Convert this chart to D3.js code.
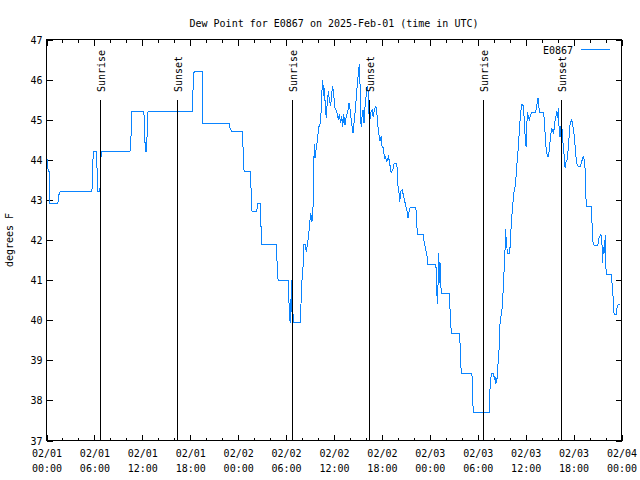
<!DOCTYPE html>
<html><head><meta charset="utf-8">
<script src="https://cdn.jsdelivr.net/npm/d3@7"></script>
<style>
body{margin:0;background:#fff}
svg{display:block;background:#fff}
text{font-family:"DejaVu Sans Mono",monospace;font-size:10px;fill:#000}
</style>
</head><body>
<svg id="c" width="640" height="480"></svg>
<script>
const chartTitle = "Dew Point for E0867 on 2025-Feb-01 (time in UTC)";
const seriesName = "E0867";
const yAxisLabel = "degrees F";

// hours since 2025-02-01 00:00 UTC
const timeHours = [0.05,0.15,0.2,0.35,0.42,1.42,1.5,1.7,5.68,5.75,5.82,5.9,6.23,6.3,6.36,6.44,6.69,6.78,6.9,10.45,10.55,10.62,10.7,12.2,12.3,12.46,12.6,12.71,18.23,18.3,18.4,18.48,19.48,19.55,22.87,22.95,23.24,24.55,24.6,24.65,24.75,25.55,25.6,25.65,25.75,26.3,26.45,26.81,26.9,28.81,28.9,29.01,30.27,30.33,30.4,30.5,30.58,30.65,30.72,30.78,30.85,30.95,31.82,31.9,31.99,32.1,32.2,32.36,32.53,32.71,32.84,32.9,33.08,33.24,33.4,33.45,33.58,33.62,33.7,33.83,33.96,34.12,34.28,34.41,34.5,34.58,34.71,34.78,34.96,35.04,35.12,35.29,35.41,35.59,35.71,35.84,35.96,36.13,36.34,36.54,36.67,36.84,36.97,37.09,37.22,37.38,37.51,37.72,37.88,38.01,38.13,38.26,38.38,38.51,38.67,38.8,38.92,39.05,39.17,39.26,39.39,39.51,39.64,39.76,39.89,40.01,40.14,40.26,40.35,40.48,40.6,40.77,40.89,41.06,41.23,41.36,41.48,41.61,41.73,41.9,42.02,42.19,42.31,42.44,42.61,42.81,42.94,43.15,43.36,43.53,43.87,43.99,44.12,44.24,44.37,44.53,44.74,44.91,45.12,45.25,45.41,45.53,46.25,46.37,46.5,47.2,47.25,47.42,47.63,47.75,48.76,48.88,48.96,49.13,49.2,49.3,49.42,50.46,50.59,50.72,51.72,51.78,51.85,51.97,53.27,53.32,53.38,53.48,55.48,55.55,55.73,55.98,56.11,56.2,56.28,56.45,56.54,56.66,56.79,57.04,57.16,57.29,57.45,57.49,57.58,57.74,57.99,58.08,58.2,58.33,58.49,58.67,58.79,58.92,59.08,59.24,59.37,59.5,59.67,59.8,59.92,60.05,60.12,60.25,60.34,60.46,60.62,60.8,61.21,61.34,61.46,61.55,61.63,61.75,62.26,62.38,62.51,62.68,62.81,62.93,63.06,63.18,63.26,63.38,63.51,63.63,63.76,63.89,63.97,64.1,64.22,64.28,64.35,64.41,64.51,64.64,64.76,64.85,64.94,65.06,65.19,65.32,65.44,65.52,65.64,65.77,65.89,66.02,66.14,66.27,66.36,66.52,66.7,66.86,67.02,67.2,67.32,67.45,67.52,67.61,68.2,68.33,68.45,69.03,69.15,69.37,69.53,69.62,69.74,69.87,69.96,70.08,70.71,70.87,71.0,71.08,71.34,71.46,71.59,71.79];

const dewPointF = [44.0,44.0,43.7,43.7,42.9,42.9,43.1,43.2,43.2,43.5,44.0,44.2,44.2,44.0,43.5,43.2,43.2,44.0,44.2,44.2,44.5,44.7,45.2,45.2,44.5,44.2,44.6,45.2,45.2,45.5,46.0,46.2,46.2,44.9,44.9,44.8,44.7,44.7,44.4,43.9,43.7,43.7,43.4,42.9,42.7,42.7,42.9,42.9,41.9,41.9,41.2,41.0,41.0,40.7,40.2,39.95,39.95,41.0,40.2,40.7,40.2,39.95,39.95,40.7,41.0,41.2,41.9,41.9,41.7,41.94,42.14,42.3,42.67,42.46,42.9,43.9,44.4,44.05,44.2,44.33,44.58,44.83,44.92,45.25,45.75,46.0,45.58,45.79,45.2,45.04,45.33,45.71,45.5,45.35,45.67,45.83,45.63,45.29,45.2,45.0,45.13,44.92,45.08,44.83,45.13,44.88,45.04,45.2,45.42,45.27,45.04,44.83,44.67,44.92,45.25,45.58,45.88,46.17,46.38,45.88,44.83,45.08,45.25,44.92,45.33,45.58,45.83,45.71,45.2,44.96,45.17,45.25,45.08,45.25,45.35,45.17,44.88,44.67,44.46,44.58,44.33,44.29,44.04,44.08,43.96,44.08,43.96,43.67,43.75,43.92,43.92,43.38,43.21,42.96,43.21,43.25,43.08,42.92,42.75,42.54,42.71,42.82,42.82,42.33,42.13,42.13,42.0,41.83,41.63,41.4,41.4,40.67,40.4,41.67,40.92,41.42,40.67,40.67,39.92,39.67,39.67,39.42,38.92,38.67,38.67,38.42,37.92,37.69,37.69,38.42,38.67,38.67,38.5,38.58,38.42,38.58,38.92,39.25,39.92,40.29,40.67,41.21,41.92,42.27,41.92,41.67,41.67,41.93,42.42,42.75,43.13,43.33,43.58,43.92,44.32,44.83,45.17,45.38,45.36,45.08,44.63,44.33,44.83,45.18,45.04,45.0,45.13,45.19,45.19,45.27,45.46,45.54,45.33,45.19,45.19,44.83,44.38,44.13,44.08,44.21,44.46,44.67,44.79,44.71,44.67,44.92,45.04,45.21,45.04,45.29,44.58,44.83,44.58,44.83,44.88,44.5,44.25,44.0,43.79,43.96,44.0,44.25,44.58,44.83,44.94,45.0,44.88,44.71,44.46,44.17,43.92,43.85,43.82,43.83,43.96,44.08,44.0,43.75,43.17,42.83,42.83,42.33,41.88,41.85,42.04,42.13,42.1,41.42,41.83,41.67,42.13,41.13,41.13,40.83,40.38,40.13,40.13,40.33,40.4,40.4];

const sunriseHours = [6.75, 30.73, 54.71];
const sunsetHours = [16.34, 40.42, 64.46];

const yTicks = [37, 38, 39, 40, 41, 42, 43, 44, 45, 46, 47];
const xMajorTicks = [0, 6, 12, 18, 24, 30, 36, 42, 48, 54, 60, 66, 72];
const xDateLabels = ["02/01","02/01","02/01","02/01","02/02","02/02","02/02","02/02","02/03","02/03","02/03","02/03","02/04"];
const xTimeLabels = ["00:00","06:00","12:00","18:00","00:00","06:00","12:00","18:00","00:00","06:00","12:00","18:00","00:00"];

const plot = {left: 46.5, right: 621.5, top: 39.5, bottom: 440.5};
const lineColor = "#0a84ff";

const svg = d3.select("#c");
const x = d3.scaleLinear().domain([0, 72]).range([plot.left, plot.right]);
const y = d3.scaleLinear().domain([37, 47]).range([plot.bottom, plot.top]);

const minorTicks = d3.range(0, 73, 2);
const isMajor = v => xMajorTicks.includes(v);

// bottom axis
const gB = svg.append("g").attr("transform", `translate(0,${plot.bottom})`)
  .call(d3.axisBottom(x).tickValues(minorTicks).tickSize(-3).tickFormat(""));
gB.selectAll(".tick line").attr("y2", d => isMajor(d) ? -6 : -3);
gB.select(".domain").remove();
gB.selectAll(".tick text").remove();
gB.selectAll(".tick").filter(d => isMajor(d)).each(function(d) {
  const i = xMajorTicks.indexOf(d);
  const t = d3.select(this).append("text").attr("text-anchor", "middle").attr("fill", "#000");
  t.append("tspan").attr("x", 0).attr("y", 16.5).text(xDateLabels[i]);
  t.append("tspan").attr("x", 0).attr("y", 31.5).text(xTimeLabels[i]);
});

// top axis (mirror ticks)
const gT = svg.append("g").attr("transform", `translate(0,${plot.top})`)
  .call(d3.axisTop(x).tickValues(minorTicks).tickSize(-3).tickFormat(""));
gT.selectAll(".tick line").attr("y2", d => isMajor(d) ? 6 : 3);
gT.select(".domain").remove();
gT.selectAll(".tick text").remove();

// left axis
const gL = svg.append("g").attr("transform", `translate(${plot.left},0)`)
  .call(d3.axisLeft(y).tickValues(yTicks).tickSize(-6).tickPadding(4).tickFormat(d3.format("d")));
gL.select(".domain").remove();
gL.selectAll(".tick text").attr("dy", "0.35em").attr("fill", "#000")
  .style("font-family", "'DejaVu Sans Mono', monospace").style("font-size", "10px");

// right axis mirror
const gR = svg.append("g").attr("transform", `translate(${plot.right},0)`)
  .call(d3.axisRight(y).tickValues(yTicks).tickSize(-6).tickFormat(""));
gR.select(".domain").remove();
gR.selectAll(".tick text").remove();

svg.selectAll(".tick line").attr("stroke", "#000").attr("shape-rendering", "crispEdges");

// data line
const pts = timeHours.map((h, i) => [h, dewPointF[i]]);
svg.append("path").datum(pts)
  .attr("fill", "none").attr("stroke", lineColor).attr("stroke-width", 1)
  .attr("shape-rendering", "crispEdges")
  .attr("d", d3.line().x(d => x(d[0])).y(d => y(d[1])));

// sunrise / sunset markers
const markerTop = y.invert(plot.bottom - 0.85 * (plot.bottom - plot.top));
const markers = sunriseHours.map(h => ({h, label: "Sunrise"}))
  .concat(sunsetHours.map(h => ({h, label: "Sunset"})));
markers.forEach(m => {
  const px = Math.round(x(m.h)) + 0.5;
  svg.append("line").attr("x1", px).attr("x2", px)
    .attr("y1", y(markerTop)).attr("y2", plot.bottom)
    .attr("stroke", "#000").attr("stroke-width", 1).attr("shape-rendering", "crispEdges");
  svg.append("text").attr("transform", `translate(${px + 4.5},92) rotate(-90)`)
    .attr("text-anchor", "start").text(m.label);
});

// border
svg.append("rect").attr("x", plot.left).attr("y", plot.top)
  .attr("width", plot.right - plot.left).attr("height", plot.bottom - plot.top)
  .attr("fill", "none").attr("stroke", "#000").attr("shape-rendering", "crispEdges");

// title
svg.append("text").attr("x", (plot.left + plot.right) / 2).attr("y", 27)
  .attr("text-anchor", "middle").text(chartTitle);

// y label
svg.append("text").attr("transform", `translate(13,240) rotate(-90)`)
  .attr("text-anchor", "middle").text(yAxisLabel);

// legend
svg.append("text").attr("x", 573).attr("y", 54).attr("text-anchor", "end").text(seriesName);
svg.append("line").attr("x1", 581).attr("x2", 610).attr("y1", 49.5).attr("y2", 49.5)
  .attr("stroke", lineColor).attr("stroke-width", 1).attr("shape-rendering", "crispEdges");
</script>
</body></html>
